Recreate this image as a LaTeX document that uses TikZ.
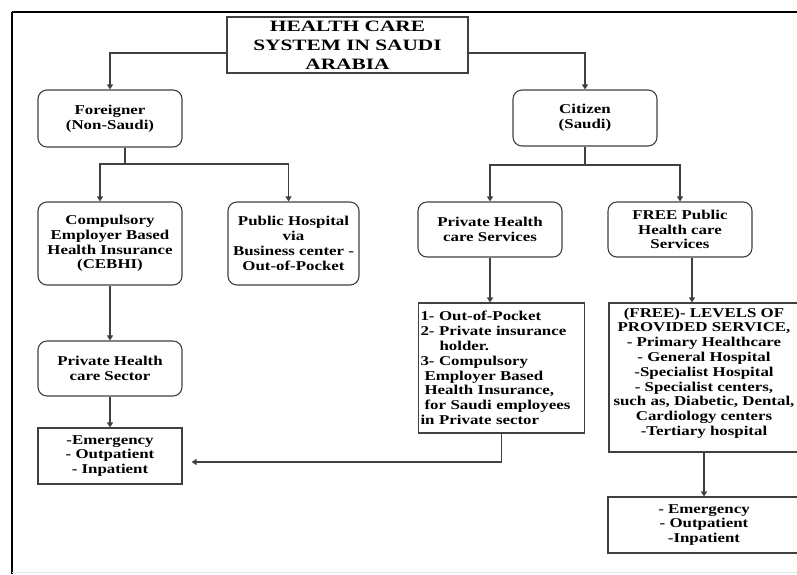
\documentclass[tikz,border=0pt]{standalone}
\usepackage{fontspec}
\setmainfont{Liberation Serif}[FakeStretch=1.25]
\newfontfamily\titlefont{Liberation Serif}[FakeStretch=1.35]
\usetikzlibrary{arrows.meta}

\begin{document}
\begin{tikzpicture}[x=1pt,y=-1pt,
  sqbox/.style={draw=black!75,line width=1.1pt,align=center,inner sep=2pt,
    font=\fontsize{13.5}{14.8}\selectfont\bfseries},
  rndbox/.style={sqbox,rounded corners=9pt},
  conn/.style={draw=black!75,line width=1.1pt,-{Triangle[width=6pt,length=5pt]}},
  plain/.style={draw=black!75,line width=1.1pt}]

\useasboundingbox (0,0) rectangle (797,574);

% frame
\draw[line width=2.2pt] (12,574) -- (12,12);
\draw[line width=1.6pt] (12,12) -- (797,12);
\draw[gray!20] (12,572) -- (797,572);

\node[sqbox,minimum width=241pt,minimum height=56pt,
  font=\titlefont\fontsize{15.8}{19}\selectfont\bfseries] (title) at (347.5,45)
  {HEALTH CARE\\SYSTEM IN SAUDI\\ARABIA};

\node[rndbox,minimum width=144pt,minimum height=57pt] (foreign) at (110,118.5) {Foreigner\\(Non-Saudi)};
\node[rndbox,minimum width=144pt,minimum height=56pt] (citizen) at (585,118) {Citizen\\(Saudi)};

\node[rndbox,minimum width=144pt,minimum height=83pt] (cebhi) at (110,243.5)
  {Compulsory\\Employer Based\\Health Insurance\\(CEBHI)};
\node[rndbox,minimum width=131pt,minimum height=83pt] (pubhosp) at (293.5,243.5)
  {Public Hospital\\via\\Business center -\\Out-of-Pocket};
\node[rndbox,minimum width=144pt,minimum height=55pt] (privserv) at (490,229.5) {Private Health\\care Services};
\node[rndbox,minimum width=144pt,minimum height=55pt] (freepub) at (680,229.5) {FREE Public\\Health care\\Services};

\node[rndbox,minimum width=144pt,minimum height=55pt] (privsector) at (110,368.5) {Private Health\\care Sector};
\node[sqbox,minimum width=144pt,minimum height=56pt] (emerg1) at (110,456)
  {-Emergency\\- Outpatient\\- Inpatient};

\node[sqbox,align=left,text width=162pt,minimum height=130pt] (list) at (501.5,368)
  {1- Out-of-Pocket\\
   2- Private insurance\\
   \hspace*{19pt}holder.\\
   3- Compulsory\\
   \hspace*{4pt}Employer Based\\
   \hspace*{4pt}Health Insurance,\\
   \hspace*{4pt}for Saudi employees\\
   in Private sector};

\node[sqbox,minimum width=190pt,minimum height=149pt] (levels) at (704,377.5)
  {(FREE)- LEVELS OF\\PROVIDED SERVICE,\\- Primary Healthcare\\- General Hospital\\-Specialist Hospital\\
   - Specialist centers,\\such as, Diabetic, Dental,\\Cardiology centers\\-Tertiary hospital\\[-3pt]\mbox{}};
\node[sqbox,minimum width=192pt,minimum height=56pt] (emerg2) at (704,525)
  {- Emergency\\- Outpatient\\-Inpatient};

\coordinate (fjoin) at (125,164);
\coordinate (cjoin) at (585,165);

\draw[conn] ([yshift=-8pt]title.west) -| (foreign);
\draw[conn] ([yshift=-8pt]title.east) -| (citizen);

\draw[plain] ([xshift=15pt]foreign.south) -- (fjoin);
\draw[conn] (fjoin) -| ([xshift=-10pt]cebhi.north);
\draw[conn] (fjoin) -| ([xshift=-5pt]pubhosp.north);

\draw[plain] (citizen.south) -- (cjoin);
\draw[conn] (cjoin) -| (privserv.north);
\draw[conn] (cjoin) -| (freepub.north);

\draw[conn] (cebhi) -- (privsector);
\draw[conn] (privsector) -- (emerg1);

\draw[conn] (privserv.south) -- (privserv.south |- list.north);
\draw[conn] ([xshift=12pt]freepub.south) -- ([xshift=12pt]freepub.south |- levels.north);
\draw[conn] (levels) -- (emerg2);
\draw[conn] (list.south) |- ([xshift=9pt,yshift=-6pt]emerg1.east);

\end{tikzpicture}
\end{document}
